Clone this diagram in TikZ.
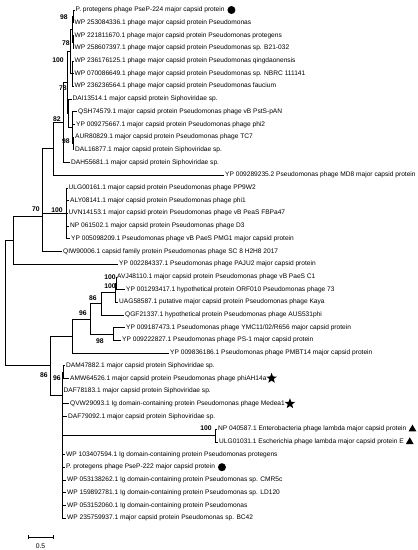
\documentclass[tikz,border=0pt]{standalone}
\usepackage{fontspec}
\setmainfont{Liberation Sans}
\usetikzlibrary{shapes.geometric,positioning}

\begin{document}
\begin{tikzpicture}[
    x=1pt, y=-1pt,
    leaf/.style={anchor=west, inner sep=1pt, font=\fontsize{6.6}{7.5}\selectfont},
    boot/.style={inner sep=0pt, font=\fontsize{6.8}{8}\selectfont\bfseries},
    branch/.style={line width=0.5pt},
    dot/.style={circle, fill, inner sep=0pt, minimum size=8pt},
    starmark/.style={star, star points=5, star point ratio=2.4, fill, inner sep=0pt, minimum size=11pt},
    tri/.style={regular polygon, regular polygon sides=3, fill, inner sep=0pt, minimum size=9pt}
]
\useasboundingbox (0,0) rectangle (418,550);

% Leaves
\node[leaf] (r1) at (74.5,10.0) {P. protegens phage PseP-224 major capsid protein};
\node[leaf] (r2) at (73.5,22.7) {WP 253084336.1 phage major capsid protein Pseudomonas};
\node[leaf] (r3) at (73.5,35.4) {WP 221811670.1 phage major capsid protein Pseudomonas protegens};
\node[leaf] (r4) at (73.5,48.1) {WP 258607397.1 phage major capsid protein Pseudomonas sp. B21-032};
\node[leaf] (r5) at (73.5,60.8) {WP 236176125.1 phage major capsid protein Pseudomonas qingdaonensis};
\node[leaf] (r6) at (73.5,73.5) {WP 070086649.1 phage major capsid protein Pseudomonas sp. NBRC 111141};
\node[leaf] (r7) at (73.5,86.2) {WP 236236564.1 phage major capsid protein Pseudomonas faucium};
\node[leaf] (r8) at (71.5,98.9) {DAI13514.1 major capsid protein Siphoviridae sp.};
\node[leaf] (r9) at (77,111.6) {QSH74579.1 major capsid protein Pseudomonas phage vB PstS-pAN};
\node[leaf] (r10) at (75,124.3) {YP 009275667.1 major capsid protein Pseudomonas phage phi2};
\node[leaf] (r11) at (74,137.0) {AUR80829.1 major capsid protein Pseudomonas phage TC7};
\node[leaf] (r12) at (74,149.7) {DAL16877.1 major capsid protein Siphoviridae sp.};
\node[leaf] (r13) at (70,162.4) {DAH55681.1 major capsid protein Siphoviridae sp.};
\node[leaf] (r14) at (224,175.1) {YP 009289235.2 Pseudomonas phage MD8 major capsid protein};
\node[leaf] (r15) at (67.5,187.8) {ULG00161.1 major capsid protein Pseudomonas phage PP9W2};
\node[leaf] (r16) at (69,200.5) {ALY08141.1 major capsid protein Pseudomonas phage phi1};
\node[leaf] (r17) at (67.5,213.2) {UVN14153.1 major capsid protein Pseudomonas phage vB PeaS FBPa47};
\node[leaf] (r18) at (69,225.9) {NP 061502.1 major capsid protein Pseudomonas phage D3};
\node[leaf] (r19) at (70,238.6) {YP 005098209.1 Pseudomonas phage vB PaeS PMG1 major capsid protein};
\node[leaf] (r20) at (62,251.3) {QIW90006.1 capsid family protein Pseudomonas phage SC 8 H2H8 2017};
\node[leaf] (r21) at (118,264.0) {YP 002284337.1 Pseudomonas phage PAJU2 major capsid protein};
\node[leaf] (r22) at (116,276.7) {AVJ48110.1 major capsid protein Pseudomonas phage vB PaeS C1};
\node[leaf] (r23) at (125,289.4) {YP 001293417.1 hypothetical protein ORF010 Pseudomonas phage 73};
\node[leaf] (r24) at (118,302.1) {UAG58587.1 putative major capsid protein Pseudomonas phage Kaya};
\node[leaf] (r25) at (124,314.8) {QGF21337.1 hypothetical protein Pseudomonas phage AUS531phi};
\node[leaf] (r26) at (125,327.5) {YP 009187473.1 Pseudomonas phage YMC11/02/R656 major capsid protein};
\node[leaf] (r27) at (121,340.2) {YP 009222827.1 Pseudomonas phage PS-1 major capsid protein};
\node[leaf] (r28) at (169,352.9) {YP 009836186.1 Pseudomonas phage PMBT14 major capsid protein};
\node[leaf] (r29) at (65,365.6) {DAM47882.1 major capsid protein Siphoviridae sp.};
\node[leaf] (r30) at (69,378.3) {AMW64526.1 major capsid protein Pseudomonas phage phiAH14a};
\node[leaf] (r31) at (62.5,391.0) {DAF78183.1 major capsid protein Siphoviridae sp.};
\node[leaf] (r32) at (69,403.7) {QVW29093.1 Ig domain-containing protein Pseudomonas phage Medea1};
\node[leaf] (r33) at (67,416.4) {DAF79092.1 major capsid protein Siphoviridae sp.};
\node[leaf] (r34) at (217,429.1) {NP 040587.1 Enterobacteria phage lambda major capsid protein};
\node[leaf] (r35) at (218,441.8) {ULG01031.1 Escherichia phage lambda major capsid protein E};
\node[leaf] (r36) at (65,454.5) {WP 103407594.1 Ig domain-containing protein Pseudomonas protegens};
\node[leaf] (r37) at (65,467.2) {P. protegens phage PseP-222 major capsid protein};
\node[leaf] (r38) at (66,479.9) {WP 053138262.1 Ig domain-containing protein Pseudomonas sp. CMR5c};
\node[leaf] (r39) at (66,492.6) {WP 159892781.1 Ig domain-containing protein Pseudomonas sp. LD120};
\node[leaf] (r40) at (66,505.3) {WP 053152060.1 Ig domain-containing protein Pseudomonas};
\node[leaf] (r41) at (66,518.0) {WP 235759937.1 major capsid protein Pseudomonas sp. BC42};

% Markers
\node[dot, right=1.5pt of r1] (m1) {};
\node[dot, right=1.5pt of r37] (m37) {};
\node[starmark, right=0.5pt of r30] (m30) {};
\node[starmark, right=0.5pt of r32] (m32) {};
\node[tri, right=2pt of r34] (m34) {};
\node[tri, right=2pt of r35] (m35) {};

% Internal nodes
\coordinate (root) at (5,302.75);
\coordinate (nA) at (13,240.1);
\coordinate (nB) at (42,216.1);
\coordinate (nC) at (42,181.0);
\coordinate (nE) at (53,148.7);
\coordinate (nD) at (63,122.3);
\coordinate (nF) at (67,82.25);
\coordinate (nG) at (70.5,51.3);
\coordinate (nA2) at (72,29.05);
\coordinate (nA1) at (73,16.35);
\coordinate (nA3) at (73,41.75);
\coordinate (nA4) at (72.5,73.5);
\coordinate (nH) at (68,113.2);
\coordinate (nH2) at (72,127.5);
\coordinate (nB1) at (73,143.35);
\coordinate (nP) at (66,213.2);
\coordinate (nZ) at (50,365.4);
\coordinate (nY) at (72,335.85);
\coordinate (n96) at (90,318.8);
\coordinate (n86) at (101,303.7);
\coordinate (n100b) at (115,292.6);
\coordinate (n100a) at (116,283.05);
\coordinate (n98) at (113,333.85);
\coordinate (nX) at (62,395);
\coordinate (n96b) at (63.5,371.95);
\coordinate (nL) at (215,435.45);

% Branches
\draw[branch] (root) |- (nA) (root) |- (nZ);
\draw[branch] (nA) |- (nB) (nA) |- (r21.west);
\draw[branch] (nB) |- (nC) (nB) |- (r20.west);
\draw[branch] (nC) |- (nE) (nC) |- (nP);
\draw[branch] (nE) |- (nD) (nE) |- (r14.west);
\draw[branch] (nD) |- (nF) (nD) |- (r13.west);
\draw[branch] (nF) |- (nG) (nF) |- (nH);
\draw[branch] (nG) |- (nA2) (nG) |- (nA4);
\draw[branch] (nA2) |- (nA1) (nA2) |- (nA3);
\draw[branch] (nA1) |- (r1.west) (nA1) |- (r2.west);
\draw[branch] (nA3) |- (r3.west) (nA3) |- (r4.west);
\draw[branch] (nA4) |- (r5.west) (nA4) |- (r6.west) (nA4) |- (r7.west);
\draw[branch] (nH) |- (r8.west) (nH) |- (nH2);
\draw[branch] (nH2) |- (r9.west) (nH2) |- (r10.west) (nH2) |- (nB1);
\draw[branch] (nB1) |- (r11.west) (nB1) |- (r12.west);
\draw[branch] (nP) |- (r15.west) (nP) |- (r16.west) (nP) |- (r17.west) (nP) |- (r18.west) (nP) |- (r19.west);
\draw[branch] (nZ) |- (nY) (nZ) |- (nX);
\draw[branch] (nY) |- (n96) (nY) |- (r28.west);
\draw[branch] (n96) |- (n86) (n96) |- (n98);
\draw[branch] (n86) |- (n100b) (n86) |- (r25.west);
\draw[branch] (n100b) |- (n100a) (n100b) |- (r24.west);
\draw[branch] (n100a) |- (r22.west) (n100a) |- (r23.west);
\draw[branch] (n98) |- (r26.west) (n98) |- (r27.west);
\draw[branch] (nX) |- (n96b) (nX) |- (r31.west) (nX) |- (r32.west) (nX) |- (r33.west) (nX) |- (nL);
\draw[branch] (nX) |- (r36.west) (nX) |- (r37.west) (nX) |- (r38.west) (nX) |- (r39.west) (nX) |- (r40.west) (nX) |- (r41.west);
\draw[branch] (n96b) |- (r29.west) (n96b) |- (r30.west);
\draw[branch] (nL) |- (r34.west) (nL) |- (r35.west);

% Bootstrap values
\node[boot] (bs1) at (64,17) {98};
\node[boot] (bs2) at (66,43) {78};
\node[boot] (bs3) at (58,60) {100};
\node[boot] (bs4) at (63,88) {78};
\node[boot] (bs5) at (57,119) {82};
\node[boot] (bs6) at (66,141) {98};
\node[boot] (bs7) at (36,209) {70};
\node[boot] (bs8) at (57,210) {100};
\node[boot] (bs9) at (110,277) {100};
\node[boot] (bs10) at (110,286) {100};
\node[boot] (bs11) at (93,298) {86};
\node[boot] (bs12) at (83,313) {96};
\node[boot] (bs13) at (100,341) {98};
\node[boot] (bs14) at (44,375) {86};
\node[boot] (bs15) at (57,378) {96};
\node[boot] (bs16) at (206,428) {100};

% Scale bar
\coordinate (sb0) at (28,537);
\coordinate (sb1) at (53,537);
\draw[branch] (sb0) -- (sb1);
\draw[branch] ([yshift=-2pt]sb0) -- ([yshift=2pt]sb0);
\draw[branch] ([yshift=-2pt]sb1) -- ([yshift=2pt]sb1);
\node[boot, font=\fontsize{6.8}{8}\selectfont] (sbl) at (40.5,546) {0.5};

\end{tikzpicture}
\end{document}
